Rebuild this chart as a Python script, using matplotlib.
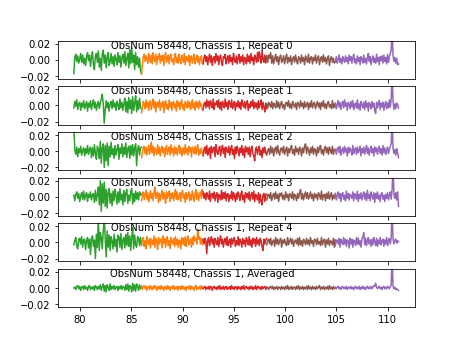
import numpy as np
import matplotlib
matplotlib.use('Agg')
import matplotlib.pyplot as plt

# granice segmentów (oś x) i kolory segmentów
seg_edges = [79.4, 86.0, 92.0, 98.2, 104.9, 111.05]
seg_colors = ['#2ca02c', '#ff7f0e', '#d62728', '#8c564b', '#9467bd']

# wartości w jednostkach 1e-3, po jednej liście na segment
repeat_0 = [
    [-17, 3, 7, -2, 5, -4, 1, 8, -3, 6, -5, 2, -7, 4, 9, -1, 6, -8, 3, 10,
     -6, -12, 5, 8, -3, 11, -9, 2, -13, 7, 12, -4, 6, -10, 3, 9, -7, -2, 8, -5,
     4, -8, 6, 1, -6, 9, -3, 5, -9, 3, 7, -4, 10, -7, 2, 8, -10, 13, -5, 15,
     -3, 6, -12, 9, -6, 4, -9, 2, -14, -17],
    [-18, -6, 4, 7, -2, 5, 1, -4, 8, 3, -3, 6, -5, 9, 2, -2, 7, -6, 4, 1,
     8, -4, 5, -1, 6, -7, 3, 9, -3, 2, 6, -5, 4, 7, -2, 1, -6, 5, 8, -3,
     3, -4, 7, 0, -5, 6, 2, -3, 8, -6, 4, 1, -2, 6, -7, 3, 5, -4, 2, 7,
     -5, 1, 6, -3, 4, -6, 2, 5, -4, -5],
    [-5, 3, 6, -2, 4, -6, 1, 7, -3, 5, -7, 2, 4, -4, 8, -1, 5, -6, 3, 6,
     -3, -7, 4, 2, 7, -5, 1, 5, -4, 6, -2, 3, -6, 8, 0, -3, 5, -5, 2, 7,
     -4, 4, -2, 6, -6, 3, 1, -5, 7, -2, 5, -4, 8, -1, 3, -6, 6, 2, -3, 9,
     -2, 10, 4, -4, 11, 1, -3, 6, -4, 5],
    [4, -3, 6, 2, 9, -4, 5, -5, 1, 7, -2, 4, -6, 3, 6, -3, 0, 5, -5, 2,
     7, -4, 3, -2, 5, -6, 1, 4, -3, 6, -1, -5, 4, 2, -4, 6, -2, 3, -6, 5,
     1, -3, 7, -4, 2, 4, -5, 3, -1, 6, -4, 2, 5, -6, 1, 4, -3, 6, -2, 3,
     -5, 2, 5, -7, 1, 4, -3, 2, -4, -2],
    [-2, 4, -4, 1, 6, -3, 2, -5, 4, 0, -3, 5, -2, 3, -5, 6, -1, 4, -4, 2,
     7, -3, 1, -5, 5, -2, 3, -6, 4, 1, -4, 6, -3, 2, -5, 3, 8, -2, 4, -6,
     1, 5, -3, 2, -4, 7, -2, 3, -6, 4, -1, 5, -4, 6, -2, 3, -5, 7, -3, 4,
     8, 12, 40, 5, -2, 3, -4, 2, -6, -5],
]
repeat_1 = [
    [-3, 5, -1, 7, -5, 2, 4, -6, 3, -2, 6, -4, 1, 5, -7, 3, -2, 6, -5, 2,
     7, -3, 4, -6, 1, 5, -4, 3, 8, 14, 2, -22, -5, 6, -3, 4, -7, 2, 5, -4,
     7, -2, 3, -6, 5, 1, -5, 8, -3, 4, -6, 2, 9, -8, 5, -9, 10, -4, 7, -10,
     11, -6, 3, 12, -8, 6, -5, 9, -3, -4],
    [-9, -3, 5, 2, -4, 7, -2, 4, -6, 3, 6, -5, 1, 8, -3, 5, -8, 2, 4, -2,
     7, -6, 3, -1, 5, -9, 2, 6, -4, 1, -5, 7, -2, 4, -6, 3, 5, -3, 2, -7,
     6, -1, 4, -5, 3, 7, -4, 1, -6, 5, 2, -3, 6, -2, 4, -5, 1, 7, -3, 3,
     -6, 5, -2, 4, -4, 6, -1, 2, -5, -6],
    [-5, 2, 4, -3, 7, -1, 5, -4, 6, 2, -3, 8, -5, 3, 1, 6, -2, 7, -4, 4,
     -6, 5, 2, -3, 8, -1, 4, -5, 6, 3, -2, 7, -4, 2, 5, -6, 3, -1, 6, -3,
     4, -5, 7, 1, -2, 5, -4, 3, 6, -6, 2, -3, 5, -1, 7, -4, 4, -2, 3, -5,
     6, -3, 2, 7, -5, 4, -2, -8, 3, -4],
    [2, -3, 4, 1, -2, 5, -4, 3, 0, -3, 6, -2, 4, -4, 2, 5, -3, 1, -5, 3,
     4, -1, 6, -3, 2, -4, 5, 1, -2, 3, -5, 4, 2, -3, 6, -1, 3, -4, 5, -2,
     1, 4, -5, 3, -2, 6, -3, 2, 4, -4, 1, 5, -2, 3, -5, 4, -1, 6, -3, 2,
     -4, 3, 5, -2, 1, -4, 6, -3, 2, -2],
    [3, -4, 1, 6, -2, 4, -5, 2, 5, -3, 7, -1, 3, -6, 4, 2, -4, 5, -2, 6,
     -5, 1, 3, -3, 7, -4, 2, -6, 5, 1, -3, 4, -5, 6, -2, 3, -7, 4, 1, -4,
     5, -2, 3, -6, -10, 4, -3, 2, 6, -5, 3, -2, 4, -6, 1, 5, -4, 3, -3, 7,
     -2, 8, 40, 6, -5, 2, -4, 3, 1, -3],
]
repeat_2 = [
    [30, 2, -4, 5, -7, 3, -2, 6, -5, 1, 4, -6, 3, -3, 7, -4, 2, 5, -8, 4,
     -6, 8, -3, -10, 6, 2, -9, 12, -15, 4, 9, -20, 7, -12, 10, -18, 6, -7, 11, -4,
     3, -9, 7, -5, 2, 8, -10, 4, -3, 9, -7, 5, -4, 10, -8, 3, 6, -9, 7, -5,
     8, -6, 4, 9, -18, 3, 7, -5, 4, 5],
    [-8, -2, 4, 6, -3, 5, -5, 2, 7, -4, 3, 11, -2, 6, -6, 4, 1, -4, 8, -3,
     5, -6, 2, 6, -2, 4, -7, 3, 7, -4, 1, 5, -5, 8, -2, 3, -6, 6, -3, 4,
     -5, 2, 7, -3, 5, -6, 1, 4, -4, 8, -2, 3, -5, 6, -1, 4, -7, 5, 2, -3,
     6, -4, 3, 8, -5, 2, -3, 4, -2, -4],
    [-6, 2, 5, -3, 7, -5, 1, 4, -9, 6, -2, 3, 5, -7, 8, -1, -4, 3, 6, -6,
     2, 7, -3, 4, -8, 5, 1, -2, 6, -5, 3, 7, -4, 2, -9, 5, -3, 6, 1, -6,
     4, -2, 7, -5, 3, -8, 6, -1, 4, -4, 5, -7, 2, 6, -3, -6, -12, 3, 5, -4,
     2, 6, -5, 1, -8, 4, -2, 5, -3, -2],
    [-5, 1, 3, -4, 6, -2, 4, -6, 2, 5, -3, 7, -1, -5, 3, 4, -2, 6, -4, 1,
     5, -6, 3, -2, 4, 7, -3, 2, -5, 6, -1, 3, -4, 5, 2, -6, 4, -2, 6, 9,
     -3, 5, 1, -5, 4, -2, 6, -4, 3, 1, -6, 5, -2, 4, 7, -3, 2, -5, 3, 6,
     -2, 4, -4, 5, 1, -3, 6, -4, 2, 2],
    [2, -4, 3, 5, -2, 6, -5, 1, 4, -3, 6, -1, 3, -6, 5, -2, 4, 1, -5, 7,
     -3, 2, 4, -4, 5, -2, 1, 6, -6, 3, -2, 5, -4, 2, 7, -3, 4, -5, 1, 6,
     -2, 3, -6, 5, -1, 4, -4, 2, 6, -3, 3, -5, 7, -2, 4, -4, 1, 5, -3, 2,
     6, 9, 40, 4, -3, 2, -5, 3, -2, -8],
]
repeat_3 = [
    [2, -5, 3, 6, -2, 4, -6, 1, 5, -3, 7, -4, 2, 5, -6, 3, -1, 6, -4, 2,
     4, -7, 8, -5, 3, 12, -10, 20, -18, 16, -8, 18, -12, 9, -14, 6, 10, -8, 4, -11,
     7, -5, 9, 2, -9, 6, -7, 10, -4, 3, -10, 8, -6, 5, 9, -8, 2, -5, 7, 10,
     -9, 4, -6, 7, -3, 5, -4, 6, 2, 3],
    [-5, 2, 6, -4, 3, 8, -3, 5, -6, 1, 7, -2, 4, -5, 6, 12, -2, 3, 6, -7,
     4, -5, 2, 8, -3, 5, 1, -8, 6, -2, 3, 7, -6, 4, -2, 5, -5, 2, 9, -3,
     6, -4, 1, 5, -6, 4, 8, -2, 3, -7, 5, -3, 2, 6, -5, 3, -4, 7, 1, -6,
     4, 9, -3, 5, -5, 2, 6, -2, 9, 2],
    [6, -2, 4, -4, 5, 1, -3, 7, -6, 3, 4, -2, 6, -5, 2, 5, -7, 3, 1, -4,
     8, -3, 5, -2, 6, -5, 3, 4, -6, 2, -2, 7, -4, 5, 1, -6, 4, -3, 6, 2,
     -5, 3, 7, -4, 2, -7, 5, -1, 4, -3, 6, -5, 2, 5, -3, 7, -6, 3, 1, -4,
     5, -8, 3, -5, -10, 2, 4, -6, 3, 3],
    [-4, 2, 3, -2, 5, -5, 1, 4, -3, 6, -2, 3, -6, 4, 1, 5, -3, 2, -4, 6,
     -1, 3, -5, 4, 2, -2, 6, -4, 3, 1, -5, 4, -2, 5, 9, -3, 4, -4, 2, 6,
     -2, 5, -3, 1, 6, -2, 3, -5, 4, -1, 3, -4, 5, 2, -3, 7, -4, 2, 3, -5,
     4, -2, 6, -3, 1, 5, -4, 2, -2, 4],
    [3, -4, 2, 6, -2, 4, -6, 3, 5, -3, 2, -5, 7, -2, 4, -4, 3, 1, -2, 6,
     -5, 4, 2, -3, 7, -6, 3, -2, 5, -4, 2, 6, -3, 4, -5, 8, -2, 3, -5, 6,
     1, -3, 5, -7, 4, -2, 6, -3, 2, -6, 4, 5, -3, 2, -6, 3, -2, 5, -4, 2,
     6, -3, 9, 40, 3, -2, 5, -4, 6, -12],
]
repeat_4 = [
    [-3, 2, 6, -5, -8, 4, 5, -2, 7, -6, 3, 4, -9, 2, 6, -7, 4, -15, 5, 8,
     -5, 3, -20, 10, -6, 30, -10, 12, 6, -8, 14, 30, 5, -18, 14, -6, 9, -10, 7, 2,
     -8, 10, -5, 4, -12, 9, 7, -6, 11, -9, 3, 6, -7, 10, -4, 12, -5, 8, -10, 6,
     18, -8, 9, -3, -6, 7, 5, -4, 6, -3],
    [-4, 3, 6, -5, 2, -8, 7, 1, -3, 5, -7, 4, 2, -3, 8, -6, 5, 1, -9, 6,
     -2, 3, 4, -7, 8, -1, 5, -6, 3, 7, -4, 2, -8, 6, 1, -2, 5, -5, 7, -3,
     4, -6, 3, 2, -8, 6, -2, 5, -4, 7, -5, 3, 8, -3, 1, 4, -6, 6, -3, 8,
     2, 5, -2, 16, 4, 7, -2, 5, -3, 3],
    [4, -2, 5, 1, -14, 3, 6, -4, 2, 7, -2, 4, -6, 5, 1, -3, 6, -5, 3, 8,
     -2, 4, -6, 2, 5, -3, 7, -4, 1, 4, -6, 5, -2, 3, 6, -5, 2, -3, 7, -4,
     4, 1, -6, 5, -2, 3, -5, 6, 2, -3, 7, -4, 3, -6, 5, -1, 4, -5, 6, -2,
     3, -4, 5, 2, -6, -10, 4, -2, 3, 5],
    [-3, 2, 4, -2, 5, -4, 1, 3, -5, 6, -2, 4, -3, 2, 5, -6, 3, -1, 4, -2,
     -4, 6, -3, 2, 5, -2, 4, -5, 1, 3, -2, 5, -4, 6, -3, 2, -5, 4, 1, -3,
     5, -2, 3, -4, 6, -1, 2, -5, 4, 3, -3, 5, -2, 1, -4, 6, -3, 2, 4, -6,
     3, -2, 5, -4, 2, 1, -3, 5, -6, 3],
    [-4, 2, 3, -2, 5, -6, 4, 1, -3, 6, -2, 4, -5, 3, 2, -7, 5, -2, 4, -6,
     3, 1, -4, 6, -2, 5, -3, 2, -6, 4, 7, 12, -3, 5, -4, 2, 6, -2, 3, -5,
     4, -3, 6, 1, -4, 5, -5, 3, -2, 6, -3, 2, 4, -5, 3, -2, 6, -4, 2, 5,
     -2, 6, 40, 5, -2, 3, 4, -1, 2, 1],
]
averaged = [
    [0, 1, -2, 2, 3, -1, 2, -3, 1, 2, -2, 3, -1, 1, -3, 2, 3, -2, 1, -1,
     2, -3, 3, 1, -2, 2, -1, 4, -3, 2, 5, -4, 3, -5, 4, 1, -3, 5, -2, 2,
     -1, 3, -2, 1, 2, -3, 2, -1, 3, -2, 2, 1, -3, 4, -2, 5, -4, 3, 1, -5,
     6, -3, 4, -4, 5, 2, -3, 4, -1, 2],
    [1, -2, 2, 3, -1, 2, -3, 1, 2, -2, 3, 0, -2, 2, -1, 3, 1, -3, 2, -1,
     2, -2, 3, -1, 1, -3, 2, 1, -2, 3, -1, 2, -3, 1, 2, -1, 3, -2, 1, -1,
     2, -3, 2, 1, -2, 3, -1, 2, -2, 1, -3, 2, 1, -1, 3, -2, 2, -1, 1, -3,
     2, 3, -2, 1, -1, 2, -2, 3, -1, 1],
    [-1, 1, 2, -2, 1, -1, 2, -2, 2, 1, -3, 1, 2, -1, 1, -2, 2, -1, 3, -2,
     1, -1, 2, -2, 1, 2, -2, 1, -1, 2, -2, 3, -1, 1, -2, 2, 1, -2, 2, -1,
     1, -2, 2, -1, 3, -2, 1, 2, -1, 1, -2, 2, -1, 2, -2, 1, -1, 3, -2, 1,
     2, -1, 1, -2, 2, -1, 1, 2, -2, 1],
    [0, 1, -2, 1, 2, -1, 2, -2, 1, -1, 2, -2, 1, 1, -2, 2, -1, 1, -2, 2,
     -1, 3, -2, 1, -1, 2, -2, 1, 1, -2, 2, -1, 3, -2, 1, -1, 2, -2, 1, -1,
     2, -2, 3, -1, 1, -2, 2, -1, 1, -2, 2, -1, 1, 3, -2, 1, -1, 2, -2, 1,
     -1, 2, -2, 3, -1, 1, -2, 2, -1, 0],
    [1, -1, 1, 2, -1, 1, -2, 1, 2, -1, 1, -1, 2, -2, 1, 1, -1, 2, -1, 1,
     -2, 1, 2, -1, 1, -1, 2, -2, 1, -1, 2, -1, 1, -2, 1, 2, -1, 1, -1, 2,
     -1, 1, 3, 2, 6, 1, -1, 1, 2, -1, 1, -2, 1, 2, -1, 1, -1, 2, 1, -1,
     2, 3, 40, 2, -1, 1, -2, -1, -2, -3],
]

panels = [repeat_0, repeat_1, repeat_2, repeat_3, repeat_4, averaged]
titles = ['ObsNum 58448, Chassis 1, Repeat 0',
          'ObsNum 58448, Chassis 1, Repeat 1',
          'ObsNum 58448, Chassis 1, Repeat 2',
          'ObsNum 58448, Chassis 1, Repeat 3',
          'ObsNum 58448, Chassis 1, Repeat 4',
          'ObsNum 58448, Chassis 1, Averaged']

fig, axes = plt.subplots(6, 1, sharex=True, figsize=(6.4, 4.8), dpi=72)

for ax, segs, title in zip(axes, panels, titles):
    for i, vals in enumerate(segs):
        x = np.linspace(seg_edges[i], seg_edges[i + 1], len(vals))
        ax.plot(x, np.array(vals) * 1e-3, color=seg_colors[i], lw=1.5)
    ax.set_ylim(-0.0235, 0.0235)
    ax.set_yticks([-0.02, 0.0, 0.02])
    ax.text(91.9, 0.0245, title, ha='center', va='top', fontsize=10)

axes[-1].set_xlim(77.82, 112.63)
axes[-1].set_xticks([80, 85, 90, 95, 100, 105, 110])

fig.savefig('out.png', dpi=72)
